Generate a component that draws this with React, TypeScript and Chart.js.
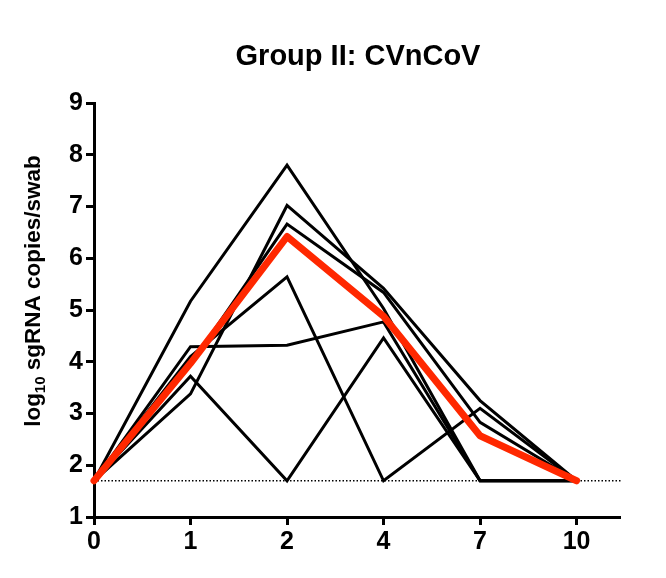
import React, { useEffect, useRef } from 'react';
import { Chart, registerables } from 'chart.js';

Chart.register(...registerables);

// ---- data ----
const dayLabels = ['0', '1', '2', '4', '7', '10'];
const yTickValues = [1, 2, 3, 4, 5, 6, 7, 8, 9];
const LOD = 1.7;
const animalA = [1.7, 5.17, 7.8, 5.03, 1.7, 1.7];
const animalB = [1.7, 3.38, 7.02, 5.42, 3.25, 1.7];
const animalC = [1.7, 3.95, 6.66, 5.34, 2.83, 1.7];
const animalD = [1.7, 4.1, 5.64, 1.7, 3.1, 1.7];
const animalE = [1.7, 3.72, 1.7, 4.46, 1.7, 1.7];
const animalF = [1.7, 4.29, 4.32, 4.77, 1.7, 1.7];
const meanValues = [1.7, 3.97, 6.42, 4.88, 2.57, 1.7];
const animals = [animalA, animalB, animalC, animalD, animalE, animalF];
const titleText = 'Group II: CVnCoV';
const yLabelMain = 'log';
const yLabelSub = '10';
const yLabelRest = ' sgRNA copies/swab';

const FONT = '"Liberation Sans", Arial, Helvetica, sans-serif';

const toPoints = (arr: number[]) => arr.map((y, i) => ({ x: i, y }));

const decorPlugin = {
  id: 'decor',
  beforeDatasetsDraw(chart: any) {
    const { ctx, chartArea, scales } = chart;
    const y = scales.y.getPixelForValue(LOD);
    ctx.save();
    ctx.strokeStyle = '#000';
    ctx.lineWidth = 1.5;
    ctx.setLineDash([1.5, 2]);
    ctx.beginPath();
    ctx.moveTo(chartArea.left, y);
    ctx.lineTo(chartArea.right + 2, y);
    ctx.stroke();
    ctx.restore();
  },
  afterDraw(chart: any) {
    const { ctx } = chart;
    ctx.save();
    ctx.fillStyle = '#000';
    // title
    ctx.font = `bold 29px ${FONT}`;
    ctx.textAlign = 'center';
    ctx.textBaseline = 'alphabetic';
    ctx.fillText(titleText, 358, 65);
    // y axis label with subscript
    const size = 22.5;
    const subSize = 15;
    ctx.font = `bold ${size}px ${FONT}`;
    const w1 = ctx.measureText(yLabelMain).width;
    const w3 = ctx.measureText(yLabelRest).width;
    ctx.font = `bold ${subSize}px ${FONT}`;
    const w2 = ctx.measureText(yLabelSub).width;
    const total = w1 + w2 + w3;
    ctx.translate(40, 291);
    ctx.rotate(-Math.PI / 2);
    ctx.textAlign = 'left';
    let x = -total / 2;
    ctx.font = `bold ${size}px ${FONT}`;
    ctx.fillText(yLabelMain, x, 0);
    x += w1;
    ctx.font = `bold ${subSize}px ${FONT}`;
    ctx.fillText(yLabelSub, x, 5);
    x += w2;
    ctx.font = `bold ${size}px ${FONT}`;
    ctx.fillText(yLabelRest, x, 0);
    ctx.restore();
  },
};

export default function App() {
  const ref = useRef<HTMLCanvasElement | null>(null);
  useEffect(() => {
    document.body.style.margin = '0';
    const canvas = ref.current;
    if (!canvas) return;
    const datasets: any[] = [
      {
        data: toPoints(meanValues),
        borderColor: 'rgb(255,40,0)',
        borderWidth: 7,
        borderCapStyle: 'round',
        borderJoinStyle: 'round',
        pointRadius: 0,
        fill: false,
        clip: false,
      },
      ...animals.map((a) => ({
        data: toPoints(a),
        borderColor: '#000',
        borderWidth: 3,
        pointRadius: 0,
        fill: false,
        clip: false,
      })),
    ];
    const tickFont = { family: FONT, size: 25, weight: 'bold' as const };
    const chart = new Chart(canvas, {
      type: 'line',
      data: { datasets },
      plugins: [decorPlugin],
      options: {
        responsive: false,
        animation: false,
        layout: { padding: { top: 103, right: 46, left: 0, bottom: 0 } },
        plugins: {
          legend: { display: false },
          tooltip: { enabled: false },
          title: { display: false },
        },
        scales: {
          x: {
            type: 'linear',
            min: 0,
            max: 5.45,
            afterBuildTicks: (s: any) => {
              s.ticks = dayLabels.map((_, i) => ({ value: i }));
            },
            afterFit: (s: any) => {
              s.height = 61;
            },
            ticks: {
              callback: (_v: any, i: number) => dayLabels[i] ?? '',
              font: tickFont,
              color: '#000',
              padding: 2,
              autoSkip: false,
              maxRotation: 0,
            },
            grid: {
              drawOnChartArea: false,
              drawTicks: true,
              tickLength: 8,
              tickWidth: 3,
              tickColor: '#000',
            },
            border: { display: true, width: 3, color: '#000' },
          },
          y: {
            type: 'linear',
            min: 1,
            max: 9,
            afterBuildTicks: (s: any) => {
              s.ticks = yTickValues.map((v) => ({ value: v }));
            },
            afterFit: (s: any) => {
              s.width = 94;
            },
            ticks: {
              font: tickFont,
              color: '#000',
              padding: 3,
            },
            grid: {
              drawOnChartArea: false,
              drawTicks: true,
              tickLength: 8,
              tickWidth: 3,
              tickColor: '#000',
            },
            border: { display: true, width: 3, color: '#000' },
          },
        },
      } as any,
    });
    return () => chart.destroy();
  }, []);
  return (
    <div style={{ width: 666, height: 578 }}>
      <canvas ref={ref} width={666} height={578} style={{ display: 'block' }} />
    </div>
  );
}
